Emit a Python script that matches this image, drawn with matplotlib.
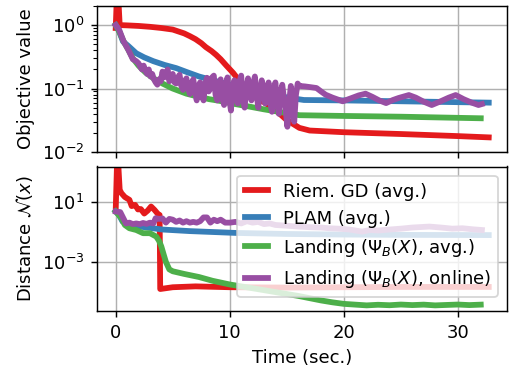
import matplotlib
matplotlib.use("Agg")
import matplotlib.pyplot as plt
from matplotlib.ticker import LogLocator, NullLocator, FixedLocator

# ---------------- data ----------------
labels = ["Riem. GD (avg.)", "PLAM (avg.)",
          r"Landing ($\Psi_B(X)$, avg.)", r"Landing ($\Psi_B(X)$, online)"]
colors = ["#e41a1c", "#377eb8", "#4daf4a", "#984ea3"]

# Objective value (top panel)
t_red_obj = [0, 0.15, 0.35, 1, 2, 3, 4, 5, 6, 6.5, 7, 7.5, 7.9, 8.4, 8.8, 9.2, 9.7,
             10.3, 10.8, 11.4, 12, 13.2, 14, 14.9, 15.5, 16.1, 17, 20, 25, 30, 32.7]
v_red_obj = [0.9, 5.0, 1.0, 0.99, 0.97, 0.94, 0.9, 0.85, 0.74, 0.67, 0.6, 0.52, 0.45,
             0.39, 0.34, 0.29, 0.23, 0.176, 0.135, 0.1, 0.078, 0.058, 0.046, 0.033,
             0.028, 0.024, 0.0218, 0.0205, 0.0192, 0.0178, 0.017]

t_blue_obj = [0, 0.3, 0.64, 1.1, 1.8, 2.5, 3.3, 4.3, 5.3, 6.3, 7.3, 8.5, 10, 11.5, 13,
              14.5, 16, 16.5, 20, 25, 30, 32.7]
v_blue_obj = [1.0, 0.8, 0.55, 0.47, 0.36, 0.31, 0.27, 0.235, 0.21, 0.18, 0.155, 0.135,
              0.115, 0.098, 0.085, 0.075, 0.068, 0.066, 0.065, 0.063, 0.061, 0.06]

t_green_obj = [0, 0.3, 0.7, 1.1, 1.5, 2.0, 2.6, 3.3, 4.1, 5.0, 6.2, 7.3, 8.2, 9.1, 10,
               11.7, 13, 14.3, 16.1, 20, 25, 32]
v_green_obj = [1.0, 0.8, 0.55, 0.41, 0.3, 0.23, 0.18, 0.145, 0.12, 0.1, 0.083, 0.074,
               0.068, 0.064, 0.059, 0.052, 0.047, 0.043, 0.038, 0.037, 0.036, 0.034]

t_purple_obj = [0, 0.3, 0.7, 1.1, 1.5, 1.8,
                2.0, 2.15, 2.3, 2.45, 2.6, 2.75, 2.9, 3.05, 3.2, 3.35, 3.5, 3.65, 3.8,
                3.95, 4.1, 4.25, 4.4, 4.55, 4.7, 4.85, 5.0, 5.15, 5.3, 5.45, 5.6, 5.75,
                5.9, 6.05, 6.2, 6.35, 6.5, 6.65, 6.8, 6.95, 7.1, 7.25, 7.4, 7.55, 7.7,
                7.85, 8.0, 8.15, 8.3, 8.45, 8.6, 8.75, 8.9, 9.05, 9.2, 9.35, 9.5, 9.65,
                9.8, 9.95, 10.1, 10.25, 10.4, 10.55, 10.7, 10.85, 11.0, 11.15, 11.3,
                11.45, 11.6, 11.75, 11.9, 12.05, 12.2, 12.35, 12.5, 12.65, 12.8, 12.95,
                13.1, 13.25, 13.4, 13.55, 13.7, 13.85, 14.0, 14.15, 14.3, 14.45, 14.6,
                14.75, 14.9, 15.05, 15.2, 15.35, 15.5, 15.65, 15.8, 15.95,
                16.1, 16.6, 17.1, 17.6, 18.0, 18.4, 19.0, 19.9, 20.6, 21.3, 21.9, 22.5,
                23.1, 23.7, 24.3, 24.8, 25.7, 26.3, 27.0, 27.7, 28.4, 29.2, 29.8, 30.5,
                31.2, 31.8, 32.1]
v_purple_obj = [1.0, 0.85, 0.55, 0.41, 0.29, 0.27,
                0.25, 0.22, 0.2, 0.23, 0.19, 0.17, 0.2, 0.155, 0.17, 0.14, 0.125, 0.115,
                0.14, 0.13, 0.185, 0.15, 0.17, 0.2, 0.13, 0.15, 0.17, 0.125, 0.12, 0.15,
                0.165, 0.11, 0.095, 0.13, 0.145, 0.1, 0.082, 0.12, 0.14, 0.09, 0.065,
                0.11, 0.125, 0.08, 0.065, 0.12, 0.148, 0.09, 0.1, 0.15, 0.16, 0.08,
                0.065, 0.12, 0.14, 0.07, 0.055, 0.11, 0.15, 0.07, 0.045, 0.1, 0.135,
                0.075, 0.058, 0.13, 0.16, 0.07, 0.05, 0.1, 0.145, 0.09, 0.065, 0.12,
                0.155, 0.08, 0.05, 0.09, 0.135, 0.1, 0.058, 0.09, 0.125, 0.06, 0.043,
                0.1, 0.125, 0.06, 0.04, 0.085, 0.115, 0.07, 0.045, 0.025, 0.06, 0.11,
                0.05, 0.03, 0.08, 0.12,
                0.11, 0.108, 0.105, 0.102, 0.09, 0.08, 0.072, 0.063, 0.07, 0.078, 0.083,
                0.074, 0.065, 0.059, 0.066, 0.071, 0.079, 0.072, 0.062, 0.055, 0.062,
                0.072, 0.079, 0.068, 0.06, 0.055, 0.057]

# Distance N(x) (bottom panel)
t_red_dist = [0, 0.15, 0.35, 0.5, 0.8, 1.2, 1.4, 1.7, 1.95, 2.2, 2.5, 2.8, 3.1, 3.4,
              3.7, 3.85, 3.9, 5, 7, 10, 15, 20, 25, 32.7]
v_red_dist = [2.8, 3e4, 60, 36, 20, 13, 5.0, 6.0, 3.0, 3.2, 1.6, 2.5, 4.7, 2.8, 1.5,
              1.3, 1.6e-5, 2.1e-5, 2.4e-5, 2.1e-5, 2.0e-5, 2.1e-5, 2.2e-5, 2.2e-5]

t_blue_dist = [0, 0.3, 0.6, 1.0, 1.5, 2.1, 3, 4.1, 6.5, 10.6, 15, 20, 25, 32.7]
v_blue_dist = [2.2, 1.26, 0.47, 0.32, 0.25, 0.22, 0.18, 0.14, 0.11, 0.083, 0.071,
               0.065, 0.062, 0.06]

t_green_dist = [0, 0.5, 0.8, 1.2, 1.8, 2.4, 3.0, 3.55, 3.8, 4.0, 4.2, 4.4, 4.7, 5.0,
                6.0, 7.3, 8.5, 10, 12, 14, 16, 18, 19, 20, 21, 22, 23, 24, 25, 26, 27,
                28, 29, 30, 31, 32]
v_green_dist = [2.2, 0.8, 0.28, 0.17, 0.13, 0.08, 0.08, 0.048, 0.025, 0.0105, 3.2e-3,
                1e-3, 3.2e-4, 2.4e-4, 1.6e-4, 1e-4, 5.6e-5, 3.2e-5, 1.8e-5, 1e-5,
                5.6e-6, 2.8e-6, 2.1e-6, 1.66e-6, 1.48e-6, 1.32e-6, 1.45e-6, 1.35e-6,
                1.5e-6, 1.38e-6, 1.48e-6, 1.32e-6, 1.41e-6, 1.5e-6, 1.38e-6, 1.48e-6]

t_purple_dist = [0, 0.4, 0.6, 0.9, 1.2, 1.5, 1.8, 2.1, 2.4, 2.7, 3.0, 3.3, 3.5, 3.8,
                 4.1, 4.4, 4.7, 5.0, 5.3, 5.6, 5.9, 6.2, 6.5, 6.8, 7.1, 7.4, 7.7, 8.0,
                 8.3, 8.6, 8.9, 9.2, 9.6, 10.0, 10.5, 11, 11.5, 12, 12.5, 13, 13.5, 14,
                 15, 16, 17, 18, 18.7, 19.5, 20.5, 21.6, 22.3, 23, 24, 25, 26, 27.5,
                 28.5, 29.5, 30.4, 31.3, 32.1]
v_purple_dist = [2.19, 2.0, 1.0, 0.355, 0.40, 0.32, 0.355, 0.32, 0.38, 0.33, 0.40,
                 0.355, 0.79, 0.71, 0.76, 0.40, 0.71, 0.63, 0.45, 0.56, 0.40, 0.50,
                 0.40, 0.45, 0.40, 0.50, 0.89, 0.89, 0.40, 0.63, 0.50, 0.63, 0.40,
                 0.40, 0.45, 0.355, 0.50, 0.40, 0.45, 0.32, 0.355, 0.28, 0.25, 0.22,
                 0.20, 0.19, 0.17, 0.16, 0.14, 0.102, 0.13, 0.12, 0.14, 0.16, 0.19,
                 0.22, 0.19, 0.16, 0.17, 0.145, 0.13]

xticks = [0, 10, 20, 30]
obj_ylim = (1e-2, 2.0)
dist_ylim = (5.6e-7, 2.1e3)
dist_yticks = [1e1, 1e-3]

# ---------------- plot ----------------
DPI = 130
fig = plt.figure(figsize=(509 / DPI, 373 / DPI), dpi=DPI)
ax1 = fig.add_axes([97 / 509, 1 - 152 / 373, 410 / 509, 146 / 373])
ax2 = fig.add_axes([97 / 509, 1 - 311 / 373, 410 / 509, 144.5 / 373], sharex=ax1)

lw = 3.2
top_series = [(t_red_obj, v_red_obj), (t_blue_obj, v_blue_obj),
              (t_green_obj, v_green_obj), (t_purple_obj, v_purple_obj)]
bot_series = [(t_red_dist, v_red_dist), (t_blue_dist, v_blue_dist),
              (t_green_dist, v_green_dist), (t_purple_dist, v_purple_dist)]

for (t, v), c in zip(top_series, colors):
    ax1.plot(t, v, color=c, lw=lw)
for (t, v), c, lab in zip(bot_series, colors, labels):
    ax2.plot(t, v, color=c, lw=lw, label=lab)

for ax in (ax1, ax2):
    ax.set_yscale("log")
    ax.grid(True, which="major", color="#b0b0b0", lw=0.8)

ax1.set_ylim(*obj_ylim)
ax1.yaxis.set_major_locator(FixedLocator([1e-2, 1e-1, 1e0]))
ax1.yaxis.set_minor_locator(LogLocator(base=10, subs=range(2, 10), numticks=20))
ax1.set_ylabel("Objective value")
ax1.tick_params(axis="x", labelbottom=False)

ax2.set_ylim(*dist_ylim)
ax2.yaxis.set_major_locator(FixedLocator(dist_yticks))
ax2.yaxis.set_minor_locator(NullLocator())
ax2.set_ylabel(r"Distance $\mathcal{N}(x)$")
ax2.set_xlabel("Time (sec.)")
ax2.set_xticks(xticks)
ax2.set_xlim(-1.64, 34.3)

ax2.legend(loc="upper right", handlelength=1.3, fontsize=10)

fig.savefig("out.png", dpi=DPI)
